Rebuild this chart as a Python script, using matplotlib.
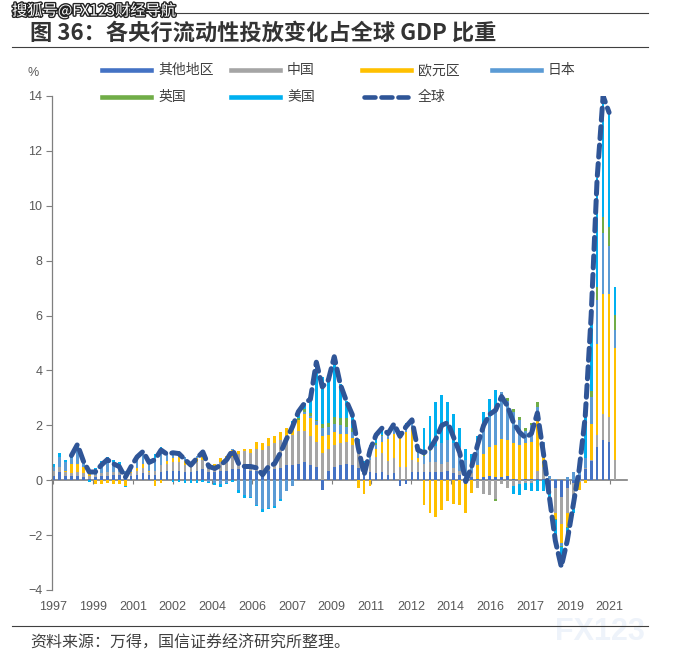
import matplotlib
matplotlib.use('Agg')
import matplotlib.pyplot as plt
import matplotlib.patheffects as pe
from matplotlib.lines import Line2D
import numpy as np

plt.rcParams['font.family'] = ['Noto Sans CJK SC', 'DejaVu Sans']

# Quarterly data, 1997 - 2021 (% of global GDP)
YEAR_LABELS = ['1997', '1999', '2001', '2002', '2004', '2006', '2007', '2009',
               '2011', '2012', '2014', '2016', '2017', '2019', '2021']

OTHER = [.15, .3, .15, .15, .15, .1, .05, .1, .15, .15, .2, .2, .1, .15, .2, .25, .2, .2, .3,
         .35, .35, .35, .3, .3, .35, .4, .3, .3, .35, .35, .4, .4, .45, .35,
         .35, .3, .35, .4, .45, .55, .55, .6, .65, .55, .5, -.35, .35, .5, .55, .6, .55, .45, .2, .3,
         .25, .3, .2, .25, -.2, -.15, .3, .3, .3, .3, .3, .3, .35, .25, .2, .15, .1,
         .05, .1, .15, .1, .1, .15, .05, 0, .05, .05, .05, .05, -.3, -.3, -.6, -.3, -.1, .2, .4, .7,
         1.2, 1.45, 1.4, 0]
CHINA = [.2, .2, .15, .1, .15, .15, .1, .1, .1, .15, .1, .1, .05, .1, .15, .2, .1, .15, .25,
         .25, .3, .3, .25, .25, .3, .35, .25, .2, .3, .35, .45, .55, .6, .65,
         .8, .8, .9, .95, 1.0, 1.05, 1.1, 1.2, 1.15, 1.05, .9, 1.0, .8, .8, .8, .8, .75, .6, .25, .45,
         .6, .7, .5, .55, .5, .5, .45, .35, .3, .35, .35, .3, .3, .2, .15, .1, .15,
         -.3, -.5, -.55, -.7, -.15, -.3, -.2, -.15, -.1, -.1, .3, .45, .05, -.9, -1.0, -.9, -.55, -.05,
         .05, .05, .43, .97, .9, .73]
EURO = [0, 0, .05, .35, .3, .25, .15, -.15, -.15, -.1, -.15, -.15, -.2, .05, .1, .15, .05, -.2, -.1,
        .1, .15, .2, .15, .05, .15, .2, .05, .1, .15, .2, .25, .1, .1, .15,
        .25, .25, .3, .25, .3, .3, .35, .4, .6, .65, .6, .6, .5, .45, .35, .3, .25, -.3, -.5, -.2,
        .3, .4, .8, .9, 1.1, 1.25, 1.2, .15, -.9, -1.2, -1.35, -1.1, -.75, -.85, -.9, -1.2, -.45,
        .5, .85, 1.05, 1.2, 1.4, 1.3, 1.3, 1.3, 1.3, 1.35, 1.8, .5, 0, -.2, -.7, -.5, -.4, -.3, -.1,
        1.3, 3.35, 4.37, 4.5, 4.07]
JAPAN = [.15, .35, .3, .2, .55, .2, .05, .2, .35, .45, .35, .25, .2, .15, .3, .35, .25, .45, .5,
         .25, .25, .2, .15, .05, .1, .15, -.05, -.1, -.15, -.1, .05, -.35, -.55, -.6,
         -.9, -1.05, -1.0, -.95, -.7, -.4, -.2, 0, .1, .1, .15, .3, .3, .3, .3, .25, .2, .2, .15, .25,
         .15, .2, .15, .2, .15, .2, .15, .2, .3, .4, .6, .75, .8, .9, .85, .5, .4,
         .6, .9, 1.1, 1.35, 1.7, 1.45, 1.15, .9, .45, .6, .5, .4, .1, .05, -.1, .1, .3, .45, .35,
         1.0, 1.6, 2.2, 1.75, .67]
UK = [0] * 41 + \
     [.05, .1, .1, .05, .15, .15, .25, .25, .3, .15, .05, 0, .05,
      .05, .05, .05, .05, .05, .05, .05, .05, .05, .05, 0, 0, 0, 0, 0, 0, 0,
      0, 0, 0, -.05, 0, .1, .1, .1, .1, .1, .2, 0, 0, -.05, -.05, -.05, 0, 0, 0,
      .2, .45, .6, .67, .55]
US = [.1, .15, .1, .1, .15, 0, -.05, .05, .1, .1, .1, .1, -.05, .05, .1, .1, .05, .15, .15,
      0, -.05, -.08, -.1, -.1, -.1, -.07, -.05, -.07, -.1, -.05, -.05, -.1, -.1, -.05,
      -.05, -.1, -.05, -.05, -.05, 0, .15, .25, .2, .5, 2.1, 1.7, 1.55, 2.2, 1.25, .65, .5, .2, .1, .25,
      .3, .25, 0, .1, 0, .1, .05, .05, .95, 1.25, 1.6, 1.75, 1.4, 1.05, .7, .4, .3,
      .45, .65, .65, .65, 0, 0, -.3, -.4, -.25, -.3, -.4, -.4, -.45, -.8, -.7, -.55, -.15, .1, 1.6,
      2.75, 3.97, 4.41, 4.18, 1.03]

SERIES = [('其他地区', OTHER, '#4472C4'),
          ('中国', CHINA, '#A5A5A5'),
          ('欧元区', EURO, '#FFC000'),
          ('日本', JAPAN, '#5B9BD5'),
          ('英国', UK, '#70AD47'),
          ('美国', US, '#00B0F0')]
LINE_COLOR = '#2F5597'
LATIN = ['Liberation Sans', 'DejaVu Sans']
W, H = 685, 663


def fx(px):
    return px / W


def fy(py):
    return 1 - py / H


fig = plt.figure(figsize=(W / 100, H / 100), dpi=100)

# faint watermark behind everything
fig.text(fx(600), fy(632), 'FX123', fontsize=22, fontweight='bold', color='#EEF3FA',
         ha='center', va='center', family=LATIN, zorder=-5)

ax = fig.add_axes([fx(52), fy(590), fx(627) - fx(52), fy(96) - fy(590)])
ax.patch.set_alpha(0)

n = len(OTHER)
x = np.arange(n)
pos_bottom = np.zeros(n)
neg_bottom = np.zeros(n)
for name, vals, color in SERIES:
    v = np.array(vals, dtype=float)
    bottom = np.where(v >= 0, pos_bottom, neg_bottom)
    ax.bar(x, v, width=0.45, bottom=bottom, color=color, linewidth=0, zorder=2)
    pos_bottom += np.where(v >= 0, v, 0)
    neg_bottom += np.where(v < 0, v, 0)

total = np.sum([np.array(s[1], dtype=float) for s in SERIES], axis=0)
line_vals = total.copy()
line_vals[:3] = np.nan
line_vals[-1] = np.nan
ax.plot(x, line_vals, color=LINE_COLOR, lw=3.6, ls=(0, (2.4, 1.3)),
        dash_capstyle='round', solid_capstyle='round', zorder=4)

ax.set_xlim(-0.25, 96.0)
ax.set_ylim(-4, 14)
ax.set_yticks(np.arange(-4, 15, 2))
ax.tick_params(axis='y', direction='out', length=4, width=0.8, color='#7F7F7F',
               labelsize=9, labelcolor='#595959', pad=3)
for lab in ax.get_yticklabels():
    lab.set_family(LATIN)

year_pos = np.arange(len(YEAR_LABELS)) * 6.65
ax.set_xticks(year_pos)
ax.set_xticklabels(YEAR_LABELS, fontsize=9, color='#595959', family=LATIN)
ax.tick_params(axis='x', length=0, pad=8)

for s in ['top', 'right', 'bottom']:
    ax.spines[s].set_visible(False)
ax.spines['left'].set_color('#7F7F7F')
ax.spines['left'].set_linewidth(0.9)

# zero axis line with small ticks
sec = ax.secondary_xaxis(4 / 18)
sec.set_xticks(year_pos)
sec.set_xticklabels([])
sec.tick_params(length=3, width=0.8, color='#7F7F7F', direction='out')
sec.spines['bottom'].set_color('#7F7F7F')
sec.spines['bottom'].set_linewidth(1.2)

# legend
legend_items = [('其他地区', 102, 70), ('中国', 231, 70), ('欧元区', 362, 70), ('日本', 492, 70),
                ('英国', 102, 97), ('美国', 231, 97)]
colors = {name: c for name, _, c in SERIES}
for name, lx, ly in legend_items:
    fig.add_artist(Line2D([fx(lx), fx(lx + 49)], [fy(ly), fy(ly)], color=colors[name], lw=3.3))
    fig.text(fx(lx + 56), fy(ly), name, fontsize=10, color='#404040', va='center')
fig.add_artist(Line2D([fx(364), fx(408)], [fy(97), fy(97)], color=LINE_COLOR, lw=3.3,
                      ls=(0, (2.4, 1.3)), dash_capstyle='round'))
fig.text(fx(418), fy(97), '全球', fontsize=10, color='#404040', va='center')

fig.text(fx(27), fy(73), '%', fontsize=9, color='#595959', va='center', family=LATIN)

# title block
fig.add_artist(Line2D([fx(12), fx(648)], [fy(13), fy(13)], color='#404040', lw=0.8))
fig.add_artist(Line2D([fx(12), fx(648)], [fy(47), fy(47)], color='#404040', lw=0.8))
fig.add_artist(Line2D([fx(12), fx(648)], [fy(626), fy(626)], color='#404040', lw=0.8))
fig.text(fx(30), fy(33), '图 36：各央行流动性投放变化占全球 GDP 比重', fontsize=16,
         fontweight='bold', color='#333333', va='center')
fig.text(fx(30), fy(643), '资料来源：万得，国信证券经济研究所整理。', fontsize=11.5,
         color='#404040', va='center')

fig.text(fx(12), fy(11), '搜狐号@FX123财经导航', fontsize=11, color='white', va='center',
         path_effects=[pe.withStroke(linewidth=2, foreground='#222222')])

fig.savefig('out.png', dpi=100)
